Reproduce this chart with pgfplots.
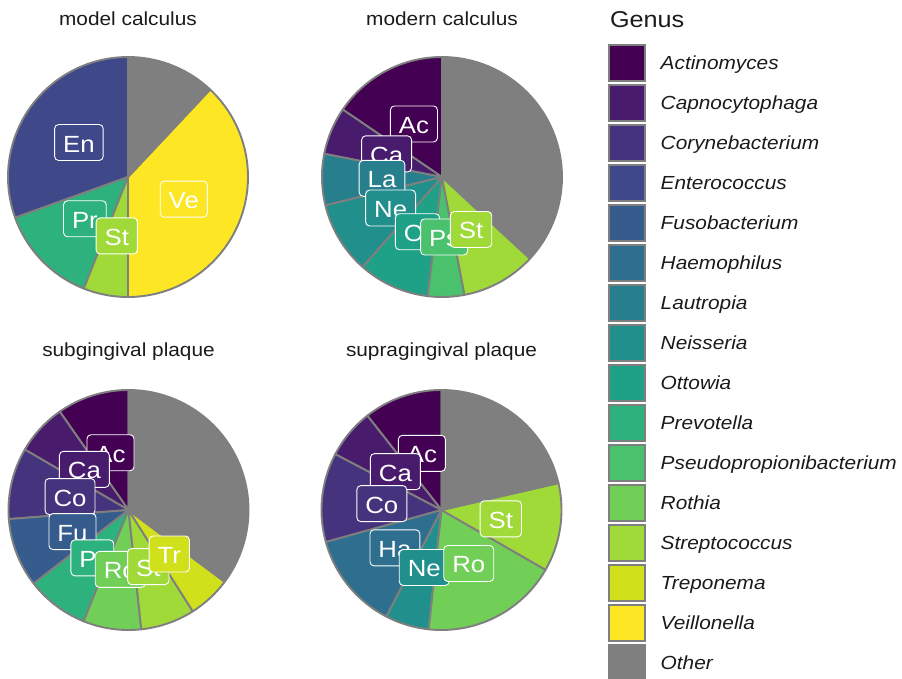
\documentclass[border=0pt]{standalone}
\usepackage{pgfplots}
\pgfplotsset{compat=1.18}
\usepackage{fontspec}
\setmainfont{Liberation Sans}[FakeStretch=1.1]

\definecolor{cAc}{HTML}{440154}
\definecolor{cCa}{HTML}{481B6D}
\definecolor{cCo}{HTML}{46337E}
\definecolor{cEn}{HTML}{3F4889}
\definecolor{cFu}{HTML}{365C8D}
\definecolor{cHa}{HTML}{2E6E8E}
\definecolor{cLa}{HTML}{277F8E}
\definecolor{cNe}{HTML}{21908C}
\definecolor{cOt}{HTML}{1FA187}
\definecolor{cPr}{HTML}{2DB27D}
\definecolor{cPs}{HTML}{4AC16D}
\definecolor{cRo}{HTML}{71CF57}
\definecolor{cSt}{HTML}{A0DA39}
\definecolor{cTr}{HTML}{D0E11C}
\definecolor{cVe}{HTML}{FDE725}
\definecolor{cOther}{HTML}{7F7F7F}
\definecolor{pgray}{HTML}{7F7F7F}
\definecolor{txt}{HTML}{1A1A1A}

% slice: #1 start (cumulative %), #2 end (cumulative %), #3 colour
\newcommand{\slice}[3]{%
  \addplot[forget plot, fill=#3, draw=pgray, line width=1.9bp, line join=round,
    domain={90+3.6*#1}:{90+3.6*#2}, samples=72, variable=\t]
    ({cos(\t)},{sin(\t)}) -- (axis cs:0,0) -- cycle;}
% label at half radius, mid angle of the slice
\newcommand{\lbl}[4]{%
  \node[lab, fill=#3] at (axis cs:{0.5*cos(90+1.8*(#1+#2))},{0.5*sin(90+1.8*(#1+#2))}) {#4};}

\tikzset{
  lab/.style={draw=white, line width=0.9bp, rounded corners=4bp, text=white,
    font=\fontsize{23.5}{23.5}\selectfont, inner xsep=8.5bp, inner ysep=7.5bp,
    text height=20bp, text depth=1bp},
  ttl/.style={anchor=base, text=txt, font=\fontsize{19}{19}\selectfont}
}
\pgfplotsset{pie/.style={scale only axis, width=240bp, height=240bp,
  xmin=-1, xmax=1, ymin=-1, ymax=1, hide axis, clip=false, anchor=center}}

\begin{document}
\begin{tikzpicture}
\path[use as bounding box] (0,0) rectangle (902bp,-679bp);

% ---------------- model calculus ----------------
\begin{axis}[pie, at={(128bp,-177bp)},
  legend style={draw=none, fill=none, at={(2.4988,1.0529)}, anchor=north west,
    inner sep=0pt, outer sep=0pt, row sep=2bp, column sep=15bp,
    nodes={inner sep=0pt}, font=\fontsize{19}{19}\selectfont\itshape, text=txt},
  legend cell align=left,
  legend image code/.code={\draw[#1, draw=pgray, line width=2bp] (0bp,-18bp) rectangle (36bp,18bp);}]
\slice{0}{30.5}{cEn}
\slice{30.5}{44}{cPr}
\slice{44}{50}{cSt}
\slice{50}{88}{cVe}
\slice{88}{100}{cOther}
\lbl{0}{30.5}{cEn}{En}
\lbl{30.5}{44}{cPr}{Pr}
\lbl{44}{50}{cSt}{St}
\lbl{50}{88}{cVe}{Ve}
\node[ttl, yshift=31.3bp] at (axis description cs:0.5,1) {model calculus};
\addlegendimage{fill=cAc}\addlegendentry{Actinomyces}
\addlegendimage{fill=cCa}\addlegendentry{Capnocytophaga}
\addlegendimage{fill=cCo}\addlegendentry{Corynebacterium}
\addlegendimage{fill=cEn}\addlegendentry{Enterococcus}
\addlegendimage{fill=cFu}\addlegendentry{Fusobacterium}
\addlegendimage{fill=cHa}\addlegendentry{Haemophilus}
\addlegendimage{fill=cLa}\addlegendentry{Lautropia}
\addlegendimage{fill=cNe}\addlegendentry{Neisseria}
\addlegendimage{fill=cOt}\addlegendentry{Ottowia}
\addlegendimage{fill=cPr}\addlegendentry{Prevotella}
\addlegendimage{fill=cPs}\addlegendentry{Pseudopropionibacterium}
\addlegendimage{fill=cRo}\addlegendentry{Rothia}
\addlegendimage{fill=cSt}\addlegendentry{Streptococcus}
\addlegendimage{fill=cTr}\addlegendentry{Treponema}
\addlegendimage{fill=cVe}\addlegendentry{Veillonella}
\addlegendimage{fill=cOther}\addlegendentry{Other}
\end{axis}

% ---------------- modern calculus ----------------
\begin{axis}[pie, at={(442bp,-177bp)}]
\slice{0}{15.5}{cAc}
\slice{15.5}{21.9}{cCa}
\slice{21.9}{28.8}{cLa}
\slice{28.8}{38.5}{cNe}
\slice{38.5}{48.1}{cOt}
\slice{48.1}{53.0}{cPs}
\slice{53.0}{63.1}{cSt}
\slice{63.1}{100}{cOther}
\lbl{0}{15.5}{cAc}{Ac}
\lbl{15.5}{21.9}{cCa}{Ca}
\lbl{21.9}{28.8}{cLa}{La}
\lbl{28.8}{38.5}{cNe}{Ne}
\lbl{38.5}{48.1}{cOt}{Ot}
\lbl{48.1}{53.0}{cPs}{Ps}
\lbl{53.0}{63.1}{cSt}{St}
\node[ttl, yshift=31.3bp] at (axis description cs:0.5,1) {modern calculus};
\end{axis}

% ---------------- subgingival plaque ----------------
\begin{axis}[pie, at={(128.5bp,-510bp)}]
\slice{0}{9.7}{cAc}
\slice{9.7}{16.6}{cCa}
\slice{16.6}{26.2}{cCo}
\slice{26.2}{35.5}{cFu}
\slice{35.5}{43.9}{cPr}
\slice{43.9}{51.7}{cRo}
\slice{51.7}{59.0}{cSt}
\slice{59.0}{64.8}{cTr}
\slice{64.8}{100}{cOther}
\lbl{0}{9.7}{cAc}{Ac}
\lbl{9.7}{16.6}{cCa}{Ca}
\lbl{16.6}{26.2}{cCo}{Co}
\lbl{26.2}{35.5}{cFu}{Fu}
\lbl{35.5}{43.9}{cPr}{Pr}
\lbl{43.9}{51.7}{cRo}{Ro}
\lbl{51.7}{59.0}{cSt}{St}
\lbl{59.0}{64.8}{cTr}{Tr}
\node[ttl, yshift=33.3bp] at (axis description cs:0.5,1) {subgingival plaque};
\end{axis}

% ---------------- supragingival plaque ----------------
\begin{axis}[pie, at={(441.5bp,-510bp)}]
\slice{0}{10.6}{cAc}
\slice{10.6}{17.3}{cCa}
\slice{17.3}{29.3}{cCo}
\slice{29.3}{42.4}{cHa}
\slice{42.4}{48.3}{cNe}
\slice{48.3}{66.7}{cRo}
\slice{66.7}{78.6}{cSt}
\slice{78.6}{100}{cOther}
\lbl{0}{10.6}{cAc}{Ac}
\lbl{10.6}{17.3}{cCa}{Ca}
\lbl{17.3}{29.3}{cCo}{Co}
\lbl{29.3}{42.4}{cHa}{Ha}
\lbl{42.4}{48.3}{cNe}{Ne}
\lbl{48.3}{66.7}{cRo}{Ro}
\lbl{66.7}{78.6}{cSt}{St}
\node[ttl, yshift=33.3bp] at (axis description cs:0.5,1) {supragingival plaque};
\end{axis}

\node[anchor=base west, text=txt, font=\fontsize{23}{23}\selectfont] at (606.5bp,-27bp) {Genus};
\end{tikzpicture}
\end{document}
